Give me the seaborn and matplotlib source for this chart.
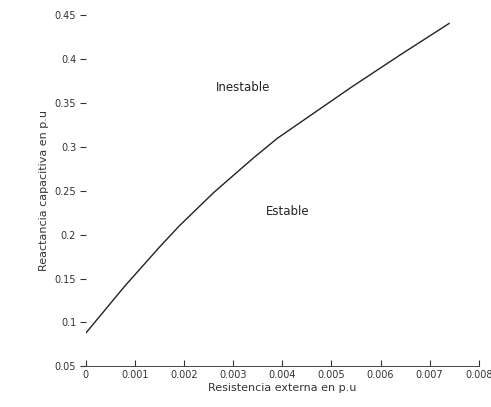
import matplotlib
matplotlib.use("Agg")
import matplotlib.pyplot as plt
import seaborn as sns
import pandas as pd

# Data
resistencia = [0.0, 0.0008, 0.0015, 0.0019, 0.0026, 0.0034, 0.0039, 0.0054, 0.0064, 0.0074]
reactancia = [0.088, 0.142, 0.186, 0.210, 0.248, 0.287, 0.310, 0.368, 0.405, 0.441]
x_ticks = [0, 0.001, 0.002, 0.003, 0.004, 0.005, 0.006, 0.007, 0.008]
x_ticklabels = ["0", "0.001", "0.002", "0.003", "0.004", "0.005", "0.006", "0.007", "0.008"]
y_ticks = [0.05, 0.1, 0.15, 0.2, 0.25, 0.3, 0.35, 0.4, 0.45]
y_ticklabels = ["0.05", "0.1", "0.15", "0.2", "0.25", "0.3", "0.35", "0.4", "0.45"]
region_labels = ["Inestable", "Estable"]
region_x = [0.0032, 0.0041]
region_y = [0.368, 0.226]

sns.set_theme(style="white")
plt.rcParams["font.family"] = ["DejaVu Sans"]

df = pd.DataFrame({"R": resistencia, "X": reactancia})

fig = plt.figure(figsize=(4.91, 4.07), dpi=100)
ax = fig.add_axes([0.175, 0.10, 0.80, 0.862])
sns.lineplot(data=df, x="R", y="X", ax=ax, color="#222222", linewidth=1.0)

ax.set_xlim(0, 0.008)
ax.set_ylim(0.05, 0.45)
ax.set_xticks(x_ticks)
ax.set_xticklabels(x_ticklabels, fontsize=7, color="#333333")
ax.set_yticks(y_ticks)
ax.set_yticklabels(y_ticklabels, fontsize=7, color="#333333")
ax.tick_params(axis="both", length=4, width=0.8, colors="#333333", pad=3,
               left=True, bottom=True)
ax.tick_params(axis="x", direction="in")
for s in ["top", "right", "left"]:
    ax.spines[s].set_visible(False)
ax.spines["bottom"].set_color("#444444")
ax.spines["bottom"].set_linewidth(0.7)

ax.set_xlabel("Resistencia externa en p.u", fontsize=8, color="#333333", labelpad=2)
ax.set_ylabel("Reactancia capacitiva en p.u", fontsize=8, color="#333333", labelpad=4)

for t, xx, yy in zip(region_labels, region_x, region_y):
    ax.text(xx, yy, t, fontsize=8.5, color="#222222", ha="center", va="center")

fig.savefig("out.png", dpi=100, facecolor="white")
